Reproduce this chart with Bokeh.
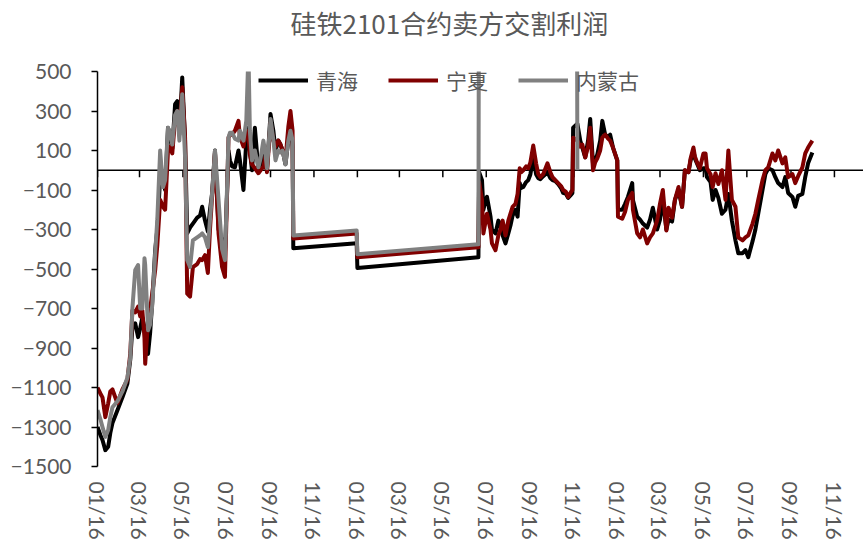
import pandas as pd
from bokeh.plotting import figure
from bokeh.models import (FixedTicker, DatetimeTickFormatter, Range1d,
                          Legend, LegendItem, Span, Title)
from bokeh.embed import file_html
from bokeh.resources import INLINE

# ---------------- data ----------------
dates_a = [
    "2018-01-16", "2018-01-20", "2018-01-23", "2018-01-27", "2018-01-31", "2018-02-03", "2018-02-06", "2018-02-13", "2018-02-20", "2018-02-27",
    "2018-03-03", "2018-03-06", "2018-03-10", "2018-03-14", "2018-03-17", "2018-03-20", "2018-03-23", "2018-03-24", "2018-03-28", "2018-03-31",
    "2018-04-03", "2018-04-07", "2018-04-10", "2018-04-14", "2018-04-18", "2018-04-21", "2018-04-25", "2018-04-28", "2018-05-01", "2018-05-05",
    "2018-05-08", "2018-05-11", "2018-05-15", "2018-05-19", "2018-05-22", "2018-05-26", "2018-05-30", "2018-06-05", "2018-06-09", "2018-06-12",
    "2018-06-16", "2018-06-20", "2018-06-23", "2018-06-26", "2018-06-30", "2018-07-05", "2018-07-10", "2018-07-14", "2018-07-19", "2018-07-21",
    "2018-07-24", "2018-07-28", "2018-08-02", "2018-08-04", "2018-08-09", "2018-08-13", "2018-08-16", "2018-08-18", "2018-08-21", "2018-08-25",
    "2018-08-30", "2018-09-02", "2018-09-06", "2018-09-09", "2018-09-11", "2018-09-16", "2018-09-20", "2018-09-23", "2018-09-27", "2018-09-30",
    "2018-10-03", "2018-10-07", "2018-10-11", "2018-10-14", "2018-10-17", "2018-10-18", "2019-01-15", "2019-01-16", "2019-07-05",
]
qinghai_a = [
    -1300, -1340, -1366, -1417, -1400, -1330, -1280, -1215, -1150, -1080,
    -960, -795, -775, -845, -800, -745, -800, -790, -930, -820,
    -660, -405, -300, -35, -35, -100, 215, 180, 110, 335,
    350, 180, 470, 150, -320, -290, -270, -240, -230, -185,
    -255, -310, -200, -115, 100, -300, -355, -420, 100, 50,
    20, 15, 100, 50, -100, 150, 215, 100, 0, 215,
    0, 30, 100, 50, 0, 285, 200, 100, 150, 130,
    100, 30, 150, 260, 120, -395, -370, -495, -440,
]
ningxia_a = [
    -1100, -1130, -1150, -1250, -1180, -1120, -1110, -1180, -1110, -1060,
    -930, -710, -720, -690, -740, -710, -850, -980, -760, -700,
    -620, -505, -380, -150, -185, -200, 100, 120, 85, 260,
    300, 200, 420, 165, -625, -640, -490, -475, -450, -455,
    -430, -520, -300, -130, 90, -320, -490, -540, 165, 180,
    180, 200, 250, 170, 120, 200, 180, 80, 30, 10,
    -15, 0, 20, 70, -10, 240, 150, 120, 150, 130,
    100, 50, 220, 300, 200, -345, -320, -440, -390,
]
neimenggu_a = [
    -1215, -1260, -1300, -1350, -1315, -1250, -1200, -1170, -1120, -1050,
    -950, -700, -505, -480, -700, -700, -445, -480, -810, -780,
    -680, -420, -250, 100, -85, -50, 215, 190, 130, 280,
    300, 150, 385, 65, -455, -490, -355, -340, -330, -320,
    -340, -390, -250, -115, 100, -150, -400, -455, 165, 190,
    190, 160, 150, 200, 150, 250, 600, 200, 50, 100,
    15, 60, 150, 80, 10, 260, 150, 50, 100, 90,
    100, 30, 150, 200, 150, -330, -305, -425, -375,
]

dates_b = [
    "2019-07-06", "2019-07-10", "2019-07-12", "2019-07-15", "2019-07-17", "2019-07-22", "2019-07-24", "2019-07-29", "2019-08-02", "2019-08-05",
    "2019-08-08", "2019-08-12", "2019-08-16", "2019-08-19", "2019-08-22", "2019-08-26", "2019-08-29", "2019-09-01", "2019-09-03", "2019-09-06",
    "2019-09-10", "2019-09-13", "2019-09-16", "2019-09-20", "2019-09-24", "2019-09-27", "2019-09-30", "2019-10-04", "2019-10-10", "2019-10-14",
    "2019-10-17", "2019-10-21", "2019-10-25", "2019-10-29", "2019-11-01", "2019-11-05", "2019-11-08", "2019-11-12", "2019-11-14", "2019-11-15",
    "2019-11-21", "2019-11-25", "2019-11-28", "2019-12-02", "2019-12-06", "2019-12-09", "2019-12-13", "2019-12-16", "2019-12-19", "2019-12-23",
    "2019-12-26", "2019-12-30", "2020-01-03", "2020-01-06", "2020-01-10", "2020-01-16", "2020-01-17", "2020-01-23", "2020-01-27", "2020-01-31",
    "2020-02-06", "2020-02-07", "2020-02-13", "2020-02-17", "2020-02-21", "2020-02-27", "2020-03-02", "2020-03-06", "2020-03-12", "2020-03-16",
    "2020-03-20", "2020-03-25", "2020-03-28", "2020-04-02", "2020-04-06", "2020-04-11", "2020-04-16", "2020-04-20", "2020-04-25", "2020-04-28",
    "2020-05-02", "2020-05-04", "2020-05-07", "2020-05-11", "2020-05-16", "2020-05-19", "2020-05-21", "2020-05-26", "2020-05-29", "2020-06-02",
    "2020-06-06", "2020-06-11", "2020-06-16", "2020-06-20", "2020-06-25", "2020-06-30", "2020-07-04", "2020-07-10", "2020-07-14", "2020-07-18",
    "2020-07-24", "2020-07-28", "2020-08-01", "2020-08-07", "2020-08-11", "2020-08-15", "2020-08-21", "2020-08-25", "2020-08-29", "2020-09-04",
    "2020-09-08", "2020-09-12", "2020-09-18", "2020-09-22", "2020-09-26", "2020-10-02", "2020-10-06", "2020-10-10", "2020-10-16",
]
qinghai_b = [
    -10, -50, -200, -150, -135, -235, -300, -320, -255, -280,
    -330, -370, -320, -280, -230, -200, -235, -65, -90, -85,
    -60, -50, -20, 65, -20, -40, -45, -30, -10, -40,
    -50, -55, -70, -90, -115, -120, -140, -125, -115, 215,
    235, 150, 115, 65, 150, 260, 30, 50, 80, 150,
    250, 180, 170, 180, 115, 50, -200, -200, -170, -135,
    -65, -150, -235, -250, -270, -290, -250, -190, -300, -250,
    -150, -300, -250, -260, -150, -100, -185, 0, -10, 50,
    100, 60, 35, 0, 10, 10, -35, -60, -150, -100,
    -140, -220, -200, -120, -255, -355, -420, -420, -405, -440,
    -360, -300, -220, -100, -20, 10, 0, -35, -65, -85,
    -35, -115, -135, -185, -130, -120, -35, 35, 90,
]
ningxia_b = [
    -60, -150, -320, -260, -220, -300, -370, -405, -330, -300,
    -255, -330, -255, -220, -185, -170, -120, 10, -10, 0,
    20, 10, 40, 125, 35, -20, -35, -20, 35, -10,
    -35, -50, -65, -80, -100, -110, -135, -110, -100, 165,
    150, 120, 130, 65, 120, 215, 0, 40, 60, 100,
    165, 180, 160, 150, 115, 50, -235, -245, -210, -150,
    -115, -200, -320, -340, -300, -370, -340, -320, -255, -170,
    -100, -305, -190, -240, -150, -85, -185, 0, -10, 60,
    115, 70, 40, 10, 85, 85, 10, -20, -85, -15,
    -70, 0, -150, 100, -150, -185, -340, -355, -340, -330,
    -270, -220, -150, -50, 0, 15, 85, 50, 100, 35,
    65, -35, -20, -65, -30, 15, 85, 115, 150,
]
# 内蒙古 after the gap: off the top of the chart, then back to zero
neimenggu_tail_dates = ["2019-07-06", "2019-11-20", "2019-11-21"]
neimenggu_tail = [1500, 1500, 0]

tick_dates = [
    "2018-01-16", "2018-03-16", "2018-05-16", "2018-07-16", "2018-09-16", "2018-11-16",
    "2019-01-16", "2019-03-16", "2019-05-16", "2019-07-16", "2019-09-16", "2019-11-16",
    "2020-01-16", "2020-03-16", "2020-05-16", "2020-07-16", "2020-09-16", "2020-11-16",
]
y_ticks = [-1500, -1300, -1100, -900, -700, -500, -300, -100, 100, 300, 500]
x_start, x_end = "2018-01-16", "2020-12-26 20:00"
y_start, y_end = -1500, 500

title_text = "硅铁2101合约卖方交割利润"
series_names = ["青海", "宁夏", "内蒙古"]
series_colors = ["#000000", "#800000", "#808080"]

# ---------------- build ----------------
assert len(dates_a) == len(qinghai_a) == len(ningxia_a) == len(neimenggu_a)
assert len(dates_b) == len(qinghai_b) == len(ningxia_b)

d_all = pd.to_datetime(dates_a + dates_b)
qh = qinghai_a + qinghai_b
nx = ningxia_a + ningxia_b
d_g = pd.to_datetime(dates_a + neimenggu_tail_dates)
nm = neimenggu_a + neimenggu_tail

tick_ts = pd.to_datetime(tick_dates)
tick_ms = [t.value / 1e6 for t in tick_ts]

W, H = 863, 542
B_LEFT, B_TOP, B_BOTTOM = 97, 71, 76
frame_h = H - B_TOP - B_BOTTOM

p = figure(width=W, height=H, x_axis_type="datetime",
           x_range=Range1d(pd.Timestamp(x_start), pd.Timestamp(x_end)),
           y_range=Range1d(y_start, y_end),
           output_backend="svg", toolbar_location=None,
           min_border_left=B_LEFT, min_border_right=0,
           min_border_top=B_TOP, min_border_bottom=B_BOTTOM)
p.background_fill_color = "white"
p.border_fill_color = "white"
p.outline_line_color = None
p.xgrid.grid_line_color = None
p.ygrid.grid_line_color = None

# spacer between frame and title (nearest the frame), then the title itself
p.add_layout(Title(text=" ", text_font_size="1px", standoff=28), "above")
p.title.text = title_text
p.title.text_font = "Noto Sans CJK SC"
p.title.text_font_size = "26px"
p.title.text_font_style = "normal"
p.title.text_color = "#595959"
p.title.align = "left"
p.title.offset = 193
p.title.standoff = 0

label_font = "Lato"
# x labels axis (bottom, labels only)
xa = p.xaxis[0]
xa.ticker = FixedTicker(ticks=tick_ms)
fmt = "%m/%d"
xa.formatter = DatetimeTickFormatter(milliseconds=fmt, seconds=fmt, minsec=fmt, minutes=fmt,
                                     hourmin=fmt, hours=fmt, days=fmt, months=fmt, years=fmt)
xa.major_label_orientation = "vertical"
xa.major_label_standoff = 9
xa.major_label_text_font = label_font
xa.major_label_text_font_size = "21px"
xa.major_label_text_color = "#595959"
xa.axis_line_color = None
xa.major_tick_line_color = None
xa.minor_tick_line_color = None

# horizontal axis line at zero, ticks pointing down (drawn under the series)
p.add_layout(Span(location=0, dimension="width", line_color="black",
                  line_width=1.5, level="underlay"))
tick_len = 7 * (y_end - y_start) / frame_h
p.segment(x0=tick_ts, y0=[0] * len(tick_ts), x1=tick_ts, y1=[-tick_len] * len(tick_ts),
          line_color="black", line_width=1.5, level="underlay")

# y axis
ya = p.yaxis[0]
ya.ticker = FixedTicker(ticks=y_ticks)
ya.major_label_text_font = label_font
ya.major_label_text_font_size = "21px"
ya.major_label_text_color = "#595959"
ya.major_label_standoff = 20
ya.axis_line_color = "black"
ya.axis_line_width = 1.5
ya.major_tick_line_color = "black"
ya.major_tick_line_width = 1.5
ya.major_tick_out = 6
ya.major_tick_in = 0
ya.minor_tick_line_color = None

lw = 4
r1 = p.line(d_all, qh, line_color=series_colors[0], line_width=lw, line_join="round")
r2 = p.line(d_all, nx, line_color=series_colors[1], line_width=lw, line_join="round")
r3 = p.line(d_g, nm, line_color=series_colors[2], line_width=lw, line_join="round")

legend = Legend(items=[LegendItem(label=series_names[0], renderers=[r1]),
                       LegendItem(label=series_names[1], renderers=[r2]),
                       LegendItem(label=series_names[2], renderers=[r3])],
                orientation="horizontal", location=(161, 371),
                glyph_width=50, glyph_height=20, label_height=20,
                label_standoff=8, spacing=30, padding=0, margin=0,
                label_text_font="Noto Sans CJK SC", label_text_font_size="21px",
                label_text_color="#595959",
                background_fill_alpha=0, border_line_alpha=0)
p.add_layout(legend)

open("out.html", "w").write(file_html(p, INLINE))
